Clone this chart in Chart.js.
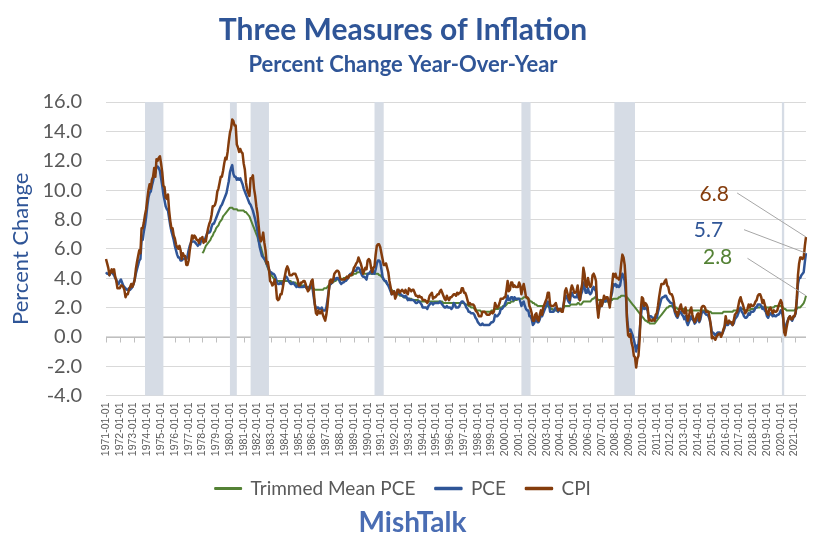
<!DOCTYPE html>
<html>
<head>
<meta charset="utf-8">
<title>Three Measures of Inflation</title>
<script src="https://cdn.jsdelivr.net/npm/chart.js@4.4.0/dist/chart.umd.min.js"></script>
<style>
  html, body { margin: 0; padding: 0; background: #ffffff; }
</style>
</head>
<body>
<canvas id="chart" width="825" height="558"></canvas>
<script>
// monthly categories, Jan 1971 .. Nov 2021
const firstYear = 1971;
const lastYear = 2021;
const lastMonth = 11;
const labels = [];
for (let y = firstYear; y <= lastYear; y++) {
    for (let m = 1; m <= 12; m++) {
        if (y === lastYear && m > lastMonth) break;
        labels.push(y + '-' + String(m).padStart(2, '0') + '-01');
    }
}

// CPI, percent change year-over-year
const cpi = [
    5.3, 5.0, 4.7, 4.2, 4.4, 4.6, 4.4, 4.6, 4.1, 3.8, 3.3, 3.3,      // 1971
    3.3, 3.5, 3.5, 3.4, 3.2, 2.7, 2.9, 2.9, 3.2, 3.4, 3.6, 3.4,      // 1972
    3.6, 3.9, 4.6, 5.1, 5.5, 5.9, 5.7, 7.4, 7.4, 7.8, 8.3, 8.7,      // 1973
    9.4, 10.0, 10.4, 10.1, 10.7, 10.9, 11.5, 10.9, 12.1, 12.0, 12.2, 12.3, // 1974
    11.8, 11.2, 10.3, 10.2, 9.5, 9.4, 9.7, 8.6, 7.9, 7.4, 7.4, 6.9,  // 1975
    6.7, 6.3, 6.1, 6.0, 6.2, 5.9, 5.3, 5.7, 5.5, 5.5, 4.9, 4.9,      // 1976
    5.2, 5.9, 6.4, 6.9, 6.7, 6.9, 6.8, 6.6, 6.6, 6.4, 6.7, 6.7,      // 1977
    6.8, 6.4, 6.6, 6.5, 7.0, 7.4, 7.7, 7.9, 8.3, 8.9, 8.9, 9.0,      // 1978
    9.3, 9.9, 10.1, 10.5, 10.9, 10.9, 11.3, 11.8, 12.2, 12.1, 12.6, 13.3, // 1979
    13.9, 14.2, 14.8, 14.7, 14.4, 14.4, 13.1, 12.9, 12.6, 12.8, 12.6, 12.5, // 1980
    11.8, 11.4, 10.5, 10.0, 9.8, 9.6, 10.8, 10.8, 11.0, 10.1, 9.6, 8.9, // 1981
    8.4, 7.6, 6.8, 6.5, 6.7, 7.1, 6.4, 5.9, 5.0, 5.1, 4.6, 3.8,      // 1982
    3.7, 3.5, 3.6, 3.9, 3.5, 2.6, 2.5, 2.6, 2.9, 2.9, 3.3, 3.8,      // 1983
    4.2, 4.6, 4.8, 4.6, 4.2, 4.2, 4.2, 4.3, 4.3, 4.3, 4.1, 3.9,      // 1984
    3.5, 3.5, 3.7, 3.7, 3.8, 3.8, 3.6, 3.3, 3.1, 3.2, 3.5, 3.8,      // 1985
    3.9, 3.1, 2.2, 1.6, 1.5, 1.8, 1.6, 1.6, 1.8, 1.5, 1.3, 1.1,      // 1986
    1.5, 2.1, 3.0, 3.8, 3.9, 3.7, 3.9, 4.3, 4.4, 4.5, 4.5, 4.4,      // 1987
    4.0, 3.9, 3.9, 3.9, 3.9, 4.0, 4.1, 4.0, 4.2, 4.2, 4.2, 4.4,      // 1988
    4.7, 4.8, 5.0, 5.1, 5.4, 5.2, 5.0, 4.7, 4.3, 4.5, 4.7, 4.6,      // 1989
    5.2, 5.3, 5.2, 4.7, 4.4, 4.7, 4.8, 5.6, 6.2, 6.3, 6.3, 6.1,      // 1990
    5.7, 5.3, 4.9, 4.9, 5.0, 4.7, 4.4, 3.8, 3.4, 2.9, 3.0, 3.1,      // 1991
    2.6, 2.8, 3.2, 3.2, 3.0, 3.1, 3.2, 3.1, 3.0, 3.2, 3.0, 2.9,      // 1992
    3.3, 3.2, 3.1, 3.2, 3.2, 3.0, 2.8, 2.8, 2.7, 2.8, 2.7, 2.7,      // 1993
    2.5, 2.5, 2.5, 2.4, 2.3, 2.5, 2.8, 2.9, 3.0, 2.6, 2.7, 2.7,      // 1994
    2.8, 2.9, 2.9, 3.1, 3.2, 3.0, 2.8, 2.6, 2.5, 2.8, 2.6, 2.5,      // 1995
    2.7, 2.7, 2.8, 2.9, 2.9, 2.8, 3.0, 2.9, 3.0, 3.0, 3.3, 3.3,      // 1996
    3.0, 3.0, 2.8, 2.5, 2.2, 2.3, 2.2, 2.2, 2.2, 2.1, 1.8, 1.7,      // 1997
    1.6, 1.4, 1.4, 1.4, 1.7, 1.7, 1.7, 1.6, 1.5, 1.5, 1.5, 1.6,      // 1998
    1.7, 1.6, 1.7, 2.3, 2.1, 2.0, 2.1, 2.3, 2.6, 2.6, 2.6, 2.7,      // 1999
    2.7, 3.2, 3.8, 3.1, 3.2, 3.7, 3.7, 3.4, 3.5, 3.4, 3.4, 3.4,      // 2000
    3.7, 3.5, 2.9, 3.3, 3.6, 3.2, 2.7, 2.7, 2.6, 2.1, 1.9, 1.6,      // 2001
    1.1, 1.1, 1.5, 1.6, 1.2, 1.1, 1.5, 1.8, 1.5, 2.0, 2.2, 2.4,      // 2002
    2.6, 3.0, 3.0, 2.2, 2.1, 2.1, 2.1, 2.2, 2.3, 2.0, 1.8, 1.9,      // 2003
    1.9, 1.7, 1.7, 2.3, 3.1, 3.3, 3.0, 2.7, 2.5, 3.2, 3.5, 3.3,      // 2004
    3.0, 3.0, 3.1, 3.5, 2.8, 2.5, 3.2, 3.6, 4.7, 4.3, 3.5, 3.4,      // 2005
    4.0, 3.6, 3.4, 3.5, 4.2, 4.3, 4.1, 3.8, 2.1, 1.3, 2.0, 2.5,      // 2006
    2.1, 2.4, 2.8, 2.6, 2.7, 2.7, 2.4, 2.0, 2.8, 3.5, 4.3, 4.1,      // 2007
    4.3, 4.0, 4.0, 3.9, 4.2, 5.0, 5.6, 5.4, 4.9, 3.7, 1.1, 0.1,      // 2008
    0.0, 0.2, -0.4, -0.7, -1.3, -1.4, -2.1, -1.5, -1.3, -0.2, 1.8, 2.7, // 2009
    2.6, 2.1, 2.3, 2.2, 2.0, 1.1, 1.2, 1.1, 1.1, 1.2, 1.1, 1.5,      // 2010
    1.6, 2.1, 2.7, 3.2, 3.6, 3.6, 3.6, 3.8, 3.9, 3.5, 3.4, 3.0,      // 2011
    2.9, 2.9, 2.7, 2.3, 1.7, 1.7, 1.4, 1.7, 2.0, 2.2, 1.8, 1.7,      // 2012
    1.6, 2.0, 1.5, 1.1, 1.4, 1.8, 2.0, 1.5, 1.2, 1.0, 1.2, 1.5,      // 2013
    1.6, 1.1, 1.5, 2.0, 2.1, 2.1, 2.0, 1.7, 1.7, 1.7, 1.3, 0.8,      // 2014
    -0.1, 0.0, -0.1, -0.2, 0.0, 0.1, 0.2, 0.2, 0.0, 0.2, 0.5, 0.7,   // 2015
    1.4, 1.0, 0.9, 1.1, 1.0, 1.0, 0.8, 1.1, 1.5, 1.6, 1.7, 2.1,      // 2016
    2.5, 2.7, 2.4, 2.2, 1.9, 1.6, 1.7, 1.9, 2.2, 2.0, 2.2, 2.1,      // 2017
    2.1, 2.2, 2.4, 2.5, 2.8, 2.9, 2.9, 2.7, 2.3, 2.5, 2.2, 1.9,      // 2018
    1.6, 1.5, 1.9, 2.0, 1.8, 1.6, 1.8, 1.7, 1.7, 1.8, 2.1, 2.3,      // 2019
    2.5, 2.3, 1.5, 0.3, 0.1, 0.6, 1.0, 1.3, 1.4, 1.2, 1.2, 1.4,      // 2020
    1.4, 1.7, 2.6, 4.2, 5.0, 5.4, 5.4, 5.3, 5.4, 6.2, 6.8            // 2021
];

// PCE price index, percent change year-over-year
const pce = [
    4.4, 4.3, 4.3, 4.2, 4.4, 4.4, 4.3, 4.2, 4.0, 3.9, 3.6, 3.6,      // 1971
    3.8, 3.9, 3.7, 3.5, 3.4, 3.3, 3.2, 3.2, 3.3, 3.2, 3.3, 3.4,      // 1972
    3.6, 3.9, 4.3, 4.6, 4.9, 5.2, 5.3, 6.6, 6.6, 7.2, 7.6, 8.2,      // 1973
    8.9, 9.5, 9.8, 9.9, 10.3, 10.6, 11.0, 11.2, 11.6, 11.6, 11.5, 11.3, // 1974
    10.8, 10.3, 9.7, 9.3, 8.9, 8.7, 8.6, 8.1, 7.6, 7.2, 6.9, 6.6,    // 1975
    6.2, 5.9, 5.6, 5.4, 5.4, 5.2, 5.2, 5.3, 5.3, 5.4, 5.3, 5.5,      // 1976
    5.9, 6.2, 6.4, 6.5, 6.5, 6.5, 6.4, 6.3, 6.2, 6.3, 6.3, 6.6,      // 1977
    6.6, 6.5, 6.6, 6.8, 7.0, 7.1, 7.1, 7.2, 7.5, 7.7, 7.7, 7.9,      // 1978
    8.1, 8.3, 8.5, 8.7, 8.9, 9.0, 9.2, 9.4, 9.6, 9.8, 10.2, 10.6,    // 1979
    11.2, 11.5, 11.7, 11.1, 10.9, 10.9, 10.7, 10.8, 10.7, 10.8, 10.6, 10.4, // 1980
    10.1, 9.9, 9.7, 9.5, 9.3, 9.1, 9.0, 8.8, 8.6, 8.3, 8.0, 7.6,     // 1981
    7.2, 6.6, 6.1, 5.8, 5.5, 5.4, 5.3, 5.2, 5.0, 4.8, 4.6, 4.4,      // 1982
    4.4, 4.3, 4.3, 4.2, 4.0, 3.7, 3.6, 3.6, 3.7, 3.6, 3.7, 3.8,      // 1983
    4.0, 4.1, 4.0, 3.8, 3.7, 3.6, 3.6, 3.7, 3.6, 3.5, 3.4, 3.5,      // 1984
    3.4, 3.4, 3.4, 3.4, 3.4, 3.5, 3.4, 3.3, 3.3, 3.4, 3.5, 3.5,      // 1985
    3.3, 2.7, 2.2, 1.9, 2.0, 2.0, 1.9, 1.9, 2.0, 1.8, 1.8, 1.8,      // 1986
    2.0, 2.5, 3.1, 3.6, 3.6, 3.7, 3.8, 4.0, 3.9, 4.0, 4.0, 3.9,      // 1987
    3.7, 3.6, 3.7, 3.7, 3.8, 3.8, 3.9, 4.0, 4.2, 4.3, 4.3, 4.4,      // 1988
    4.5, 4.5, 4.5, 4.7, 4.7, 4.6, 4.4, 4.2, 4.1, 4.1, 4.0, 3.9,      // 1989
    4.3, 4.3, 4.4, 4.5, 4.3, 4.4, 4.3, 4.6, 5.0, 5.2, 5.2, 5.1,      // 1990
    4.6, 4.1, 3.9, 3.8, 3.8, 3.6, 3.5, 3.3, 3.1, 2.9, 3.0, 3.1,      // 1991
    2.8, 2.9, 3.0, 3.0, 2.9, 2.9, 2.8, 2.8, 2.7, 2.8, 2.7, 2.5,      // 1992
    2.6, 2.5, 2.5, 2.5, 2.5, 2.4, 2.3, 2.3, 2.4, 2.4, 2.3, 2.2,      // 1993
    2.0, 2.0, 2.0, 2.0, 1.9, 2.1, 2.2, 2.3, 2.3, 2.2, 2.3, 2.3,      // 1994
    2.3, 2.3, 2.3, 2.4, 2.3, 2.2, 2.1, 2.0, 2.0, 2.1, 2.0, 2.0,      // 1995
    2.0, 1.9, 2.0, 2.3, 2.2, 2.0, 2.0, 2.0, 2.1, 2.3, 2.4, 2.4,      // 1996
    2.3, 2.2, 2.0, 1.9, 1.7, 1.7, 1.6, 1.6, 1.6, 1.5, 1.3, 1.2,      // 1997
    1.0, 0.9, 0.8, 0.8, 0.9, 0.8, 0.8, 0.8, 0.8, 0.8, 0.8, 0.9,      // 1998
    1.0, 1.0, 1.1, 1.5, 1.4, 1.4, 1.5, 1.6, 1.9, 1.9, 2.0, 2.1,      // 1999
    2.3, 2.5, 2.8, 2.5, 2.5, 2.7, 2.7, 2.5, 2.7, 2.6, 2.6, 2.6,      // 2000
    2.6, 2.4, 2.1, 2.3, 2.4, 2.1, 1.9, 1.8, 1.8, 1.4, 1.4, 1.2,      // 2001
    0.8, 0.9, 1.1, 1.3, 1.0, 1.0, 1.2, 1.5, 1.4, 1.6, 1.8, 2.0,      // 2002
    2.2, 2.4, 2.3, 1.7, 1.7, 1.7, 1.7, 1.9, 2.0, 1.8, 1.7, 1.8,      // 2003
    1.9, 1.8, 1.9, 2.3, 2.7, 2.8, 2.6, 2.4, 2.3, 2.8, 3.0, 2.8,      // 2004
    2.7, 2.7, 2.7, 3.0, 2.6, 2.5, 2.9, 3.1, 3.7, 3.4, 3.0, 3.0,      // 2005
    3.3, 3.0, 2.9, 3.0, 3.3, 3.4, 3.2, 3.1, 2.2, 1.7, 2.0, 2.3,      // 2006
    2.1, 2.4, 2.5, 2.4, 2.5, 2.5, 2.4, 2.2, 2.7, 3.0, 3.6, 3.5,      // 2007
    3.6, 3.4, 3.5, 3.4, 3.5, 4.0, 4.3, 4.1, 3.8, 2.9, 1.4, 0.6,      // 2008
    0.4, 0.5, 0.3, 0.1, -0.2, -0.6, -1.0, -0.6, -0.5, 0.3, 1.3, 2.0, // 2009
    2.2, 1.9, 2.0, 1.9, 1.8, 1.3, 1.4, 1.4, 1.3, 1.3, 1.1, 1.3,      // 2010
    1.3, 1.7, 2.0, 2.3, 2.6, 2.7, 2.7, 2.8, 2.8, 2.6, 2.5, 2.4,      // 2011
    2.3, 2.3, 2.2, 1.9, 1.6, 1.4, 1.3, 1.5, 1.7, 1.7, 1.5, 1.4,      // 2012
    1.2, 1.4, 1.0, 0.8, 1.0, 1.2, 1.4, 1.2, 1.1, 0.9, 1.0, 1.2,      // 2013
    1.2, 1.0, 1.2, 1.6, 1.7, 1.7, 1.6, 1.5, 1.5, 1.4, 1.2, 0.8,      // 2014
    0.3, 0.3, 0.2, 0.1, 0.2, 0.3, 0.3, 0.3, 0.2, 0.2, 0.4, 0.6,      // 2015
    1.0, 0.8, 0.8, 1.0, 0.9, 0.9, 0.8, 0.9, 1.2, 1.3, 1.4, 1.6,      // 2016
    1.9, 2.0, 1.7, 1.6, 1.4, 1.3, 1.3, 1.4, 1.6, 1.5, 1.7, 1.7,      // 2017
    1.7, 1.8, 2.0, 2.0, 2.2, 2.2, 2.2, 2.1, 1.9, 2.0, 1.8, 1.7,      // 2018
    1.4, 1.3, 1.5, 1.6, 1.5, 1.4, 1.5, 1.4, 1.4, 1.5, 1.5, 1.6,      // 2019
    1.8, 1.7, 1.3, 0.5, 0.5, 0.9, 1.1, 1.3, 1.4, 1.2, 1.1, 1.3,      // 2020
    1.4, 1.6, 2.5, 3.6, 4.0, 4.0, 4.2, 4.3, 4.4, 5.1, 5.7            // 2021
];

// Trimmed Mean PCE, starts January 1978
const trimmedStart = '1978-01-01';
const trimmedMean = [
    5.7, 5.8, 6.0, 6.2, 6.3, 6.4, 6.5, 6.6, 6.8, 6.9, 7.1, 7.2,      // 1978
    7.4, 7.5, 7.6, 7.8, 7.9, 8.0, 8.2, 8.3, 8.4, 8.5, 8.6, 8.7,      // 1979
    8.8, 8.8, 8.8, 8.7, 8.7, 8.7, 8.7, 8.6, 8.6, 8.6, 8.6, 8.6,      // 1980
    8.6, 8.5, 8.5, 8.4, 8.3, 8.2, 8.0, 7.8, 7.6, 7.4, 7.2, 7.0,      // 1981
    6.8, 6.5, 6.3, 6.1, 5.8, 5.5, 5.3, 5.1, 4.9, 4.7, 4.5, 4.3,      // 1982
    4.2, 4.1, 4.0, 3.9, 3.9, 3.8, 3.8, 3.8, 3.8, 3.8, 3.8, 3.8,      // 1983
    3.8, 3.8, 3.8, 3.8, 3.8, 3.8, 3.7, 3.7, 3.7, 3.7, 3.6, 3.6,      // 1984
    3.6, 3.6, 3.5, 3.5, 3.5, 3.4, 3.4, 3.4, 3.4, 3.3, 3.3, 3.3,      // 1985
    3.3, 3.3, 3.2, 3.2, 3.2, 3.2, 3.2, 3.2, 3.2, 3.2, 3.3, 3.3,      // 1986
    3.3, 3.4, 3.5, 3.5, 3.6, 3.7, 3.7, 3.8, 3.8, 3.9, 3.9, 3.9,      // 1987
    3.9, 3.9, 3.9, 4.0, 4.0, 4.0, 4.1, 4.1, 4.1, 4.2, 4.2, 4.2,      // 1988
    4.3, 4.3, 4.3, 4.4, 4.4, 4.4, 4.4, 4.3, 4.3, 4.3, 4.3, 4.3,      // 1989
    4.3, 4.3, 4.3, 4.3, 4.3, 4.3, 4.3, 4.3, 4.3, 4.3, 4.2, 4.2,      // 1990
    4.1, 4.0, 3.9, 3.8, 3.7, 3.6, 3.5, 3.4, 3.3, 3.2, 3.1, 3.0,      // 1991
    3.0, 2.9, 2.9, 2.9, 2.8, 2.8, 2.8, 2.7, 2.7, 2.7, 2.6, 2.6,      // 1992
    2.6, 2.6, 2.6, 2.5, 2.5, 2.5, 2.5, 2.5, 2.5, 2.4, 2.4, 2.4,      // 1993
    2.4, 2.4, 2.4, 2.4, 2.4, 2.4, 2.4, 2.4, 2.4, 2.4, 2.4, 2.4,      // 1994
    2.4, 2.4, 2.4, 2.4, 2.4, 2.4, 2.3, 2.3, 2.3, 2.3, 2.3, 2.3,      // 1995
    2.3, 2.3, 2.3, 2.3, 2.3, 2.3, 2.3, 2.3, 2.3, 2.3, 2.3, 2.3,      // 1996
    2.3, 2.2, 2.2, 2.2, 2.1, 2.1, 2.0, 2.0, 2.0, 1.9, 1.9, 1.8,      // 1997
    1.8, 1.8, 1.8, 1.7, 1.7, 1.7, 1.7, 1.7, 1.7, 1.7, 1.7, 1.7,      // 1998
    1.8, 1.8, 1.8, 1.9, 1.9, 1.9, 1.9, 2.0, 2.0, 2.0, 2.1, 2.1,      // 1999
    2.1, 2.2, 2.3, 2.3, 2.3, 2.4, 2.4, 2.4, 2.5, 2.5, 2.5, 2.6,      // 2000
    2.6, 2.6, 2.6, 2.6, 2.7, 2.7, 2.7, 2.6, 2.6, 2.5, 2.4, 2.4,      // 2001
    2.3, 2.3, 2.2, 2.2, 2.1, 2.1, 2.1, 2.1, 2.1, 2.1, 2.1, 2.1,      // 2002
    2.1, 2.1, 2.0, 2.0, 1.9, 1.9, 1.8, 1.8, 1.8, 1.8, 1.8, 1.8,      // 2003
    1.8, 1.8, 1.9, 2.0, 2.1, 2.1, 2.1, 2.1, 2.1, 2.2, 2.2, 2.2,      // 2004
    2.2, 2.2, 2.2, 2.3, 2.3, 2.2, 2.2, 2.3, 2.4, 2.4, 2.4, 2.4,      // 2005
    2.4, 2.4, 2.4, 2.5, 2.6, 2.6, 2.7, 2.7, 2.6, 2.5, 2.5, 2.5,      // 2006
    2.5, 2.5, 2.4, 2.4, 2.4, 2.4, 2.4, 2.4, 2.5, 2.5, 2.6, 2.6,      // 2007
    2.6, 2.6, 2.6, 2.7, 2.7, 2.8, 2.8, 2.8, 2.8, 2.7, 2.7, 2.6,      // 2008
    2.5, 2.4, 2.3, 2.2, 2.1, 2.0, 1.9, 1.8, 1.7, 1.6, 1.5, 1.4,      // 2009
    1.3, 1.2, 1.1, 1.1, 1.0, 1.0, 0.9, 0.9, 0.9, 0.9, 0.9, 1.0,      // 2010
    1.1, 1.2, 1.3, 1.4, 1.5, 1.6, 1.7, 1.8, 1.9, 2.0, 2.0, 2.1,      // 2011
    2.1, 2.1, 2.0, 2.0, 2.0, 2.0, 1.9, 1.9, 1.9, 1.9, 1.9, 1.9,      // 2012
    1.9, 1.9, 1.8, 1.8, 1.8, 1.8, 1.8, 1.8, 1.8, 1.8, 1.8, 1.8,      // 2013
    1.8, 1.8, 1.8, 1.8, 1.8, 1.8, 1.8, 1.8, 1.8, 1.7, 1.7, 1.7,      // 2014
    1.6, 1.6, 1.6, 1.6, 1.6, 1.6, 1.6, 1.6, 1.6, 1.6, 1.7, 1.7,      // 2015
    1.7, 1.7, 1.7, 1.7, 1.7, 1.7, 1.7, 1.8, 1.8, 1.8, 1.8, 1.8,      // 2016
    1.9, 1.9, 1.9, 1.9, 1.9, 1.8, 1.8, 1.8, 1.8, 1.8, 1.9, 1.9,      // 2017
    1.9, 1.9, 2.0, 2.0, 2.0, 2.0, 2.0, 2.1, 2.0, 2.0, 2.0, 2.0,      // 2018
    2.0, 2.0, 2.0, 2.0, 2.0, 2.0, 2.0, 2.1, 2.1, 2.1, 2.1, 2.1,      // 2019
    2.1, 2.1, 2.0, 1.9, 1.9, 1.8, 1.8, 1.8, 1.8, 1.8, 1.8, 1.8,      // 2020
    1.8, 1.9, 1.9, 2.0, 2.0, 2.0, 2.1, 2.2, 2.3, 2.5, 2.8            // 2021
];

// recessions (start, end month)
const recessions = [
    ['1973-11-01', '1975-03-01'],
    ['1980-01-01', '1980-07-01'],
    ['1981-07-01', '1982-11-01'],
    ['1990-07-01', '1991-03-01'],
    ['2001-03-01', '2001-11-01'],
    ['2007-12-01', '2009-06-01'],
    ['2020-02-01', '2020-04-01']
];

const yTicks = { min: -4, max: 16, step: 2 };

const seriesNames = ['Trimmed Mean PCE', 'PCE', 'CPI'];
const seriesColors = ['#548235', '#2F5597', '#843C0C'];

const trimmedData = new Array(labels.indexOf(trimmedStart)).fill(null).concat(trimmedMean);
const seriesData = [trimmedData, pce, cpi];

// end-of-line callouts: label anchor and leader start, in chart units
const callouts = [
    { series: 2, at: '2015-03-01', y: 9.7, from: '2016-11-01', fromY: 9.8 },
    { series: 1, at: '2014-10-01', y: 7.25, from: '2017-05-01', fromY: 7.3 },
    { series: 0, at: '2015-06-01', y: 5.4, from: '2017-08-01', fromY: 5.35 }
];

const FONT = 'Lato';

const zeroAxis = {
    id: 'zeroAxis',
    beforeDatasetsDraw(chart) {
        const { ctx, chartArea, scales: { x, y } } = chart;
        const y0 = Math.round(y.getPixelForValue(0)) + 0.5;
        ctx.save();
        ctx.strokeStyle = '#BFBFBF';
        ctx.lineWidth = 1;
        ctx.beginPath();
        ctx.moveTo(chartArea.left, y0);
        ctx.lineTo(chartArea.right, y0);
        labels.forEach((l, i) => {
            if (l.endsWith('-01-01')) {
                const px = Math.round(x.getPixelForValue(i)) + 0.5;
                ctx.moveTo(px, y0);
                ctx.lineTo(px, y0 + 5);
            }
        });
        ctx.stroke();
        ctx.restore();
    }
};

const recessionBands = {
    id: 'recessionBands',
    beforeDatasetsDraw(chart) {
        const { ctx, chartArea, scales: { x } } = chart;
        ctx.save();
        ctx.fillStyle = '#D6DCE5';
        recessions.forEach(([s, e]) => {
            const x0 = x.getPixelForValue(labels.indexOf(s));
            const x1 = x.getPixelForValue(labels.indexOf(e));
            ctx.fillRect(x0, chartArea.top, Math.max(x1 - x0, 2), chartArea.bottom - chartArea.top);
        });
        ctx.restore();
    }
};

const endCallouts = {
    id: 'endCallouts',
    afterDatasetsDraw(chart) {
        const { ctx, scales: { x, y } } = chart;
        ctx.save();
        callouts.forEach(c => {
            const data = seriesData[c.series];
            const last = data.length - 1;
            const px = x.getPixelForValue(last);
            const py = y.getPixelForValue(data[last]);
            ctx.strokeStyle = '#A6A6A6';
            ctx.lineWidth = 1;
            ctx.beginPath();
            ctx.moveTo(x.getPixelForValue(labels.indexOf(c.from)), y.getPixelForValue(c.fromY));
            ctx.lineTo(px, py);
            ctx.stroke();
            ctx.fillStyle = seriesColors[c.series];
            ctx.font = '21px ' + FONT;
            ctx.textAlign = 'center';
            ctx.textBaseline = 'middle';
            ctx.fillText(data[last].toFixed(1), x.getPixelForValue(labels.indexOf(c.at)), y.getPixelForValue(c.y));
        });
        ctx.restore();
    }
};

const brand = {
    id: 'brand',
    afterDraw(chart) {
        const { ctx } = chart;
        ctx.save();
        ctx.fillStyle = '#4A6DB3';
        ctx.font = 'bold 28px ' + FONT;
        ctx.textAlign = 'center';
        ctx.textBaseline = 'middle';
        ctx.fillText('MishTalk', chart.width / 2, 523);
        ctx.restore();
    }
};

new Chart(document.getElementById('chart'), {
    type: 'line',
    data: {
        labels: labels,
        datasets: seriesNames.map((name, i) => ({
            label: name,
            data: seriesData[i],
            borderColor: seriesColors[i],
            backgroundColor: seriesColors[i],
            borderWidth: i === 0 ? 2 : 2.5,
            pointRadius: 0,
            tension: 0,
            borderJoinStyle: 'round',
            order: 3 - i
        }))
    },
    options: {
        responsive: false,
        animation: false,
        layout: { padding: { left: 0, right: 19, top: 0, bottom: 50 } },
        plugins: {
            title: {
                display: true,
                text: 'Three Measures of Inflation',
                color: '#2F5597',
                font: { family: FONT, size: 30, weight: 'bold' },
                padding: { top: 12, bottom: 4 }
            },
            subtitle: {
                display: true,
                text: 'Percent Change Year-Over-Year',
                color: '#2F5597',
                font: { family: FONT, size: 22, weight: 'bold' },
                padding: { top: 0, bottom: 23.6 }
            },
            legend: {
                position: 'bottom',
                labels: {
                    font: { family: FONT, size: 19 },
                    color: '#595959',
                    boxWidth: 26,
                    boxHeight: 1,
                    padding: 20,
                    sort: (a, b) => a.datasetIndex - b.datasetIndex
                }
            },
            tooltip: { enabled: false }
        },
        scales: {
            x: {
                type: 'category',
                offset: false,
                grid: { display: false, drawTicks: false },
                border: { display: false },
                ticks: {
                    autoSkip: false,
                    minRotation: 90,
                    maxRotation: 90,
                    padding: 7,
                    color: '#595959',
                    font: { family: 'Liberation Sans', size: 10.5 },
                    callback: function (value) {
                        const l = this.getLabelForValue(value);
                        return l.endsWith('-01-01') ? l : null;
                    }
                },
                afterFit: scale => { scale.height = 63.5; }
            },
            y: {
                min: yTicks.min,
                max: yTicks.max,
                grid: { color: '#D9D9D9', drawTicks: false },
                border: { display: false },
                ticks: {
                    stepSize: yTicks.step,
                    padding: 24,
                    color: '#595959',
                    font: { family: FONT, size: 20 },
                    callback: v => v.toFixed(1)
                },
                title: {
                    display: true,
                    text: 'Percent Change',
                    color: '#2F5597',
                    font: { family: FONT, size: 22 },
                    padding: { top: 8, bottom: 0 }
                },
                afterFit: scale => { scale.width = 106; }
            }
        }
    },
    plugins: [zeroAxis, recessionBands, endCallouts, brand]
});
</script>
</body>
</html>
